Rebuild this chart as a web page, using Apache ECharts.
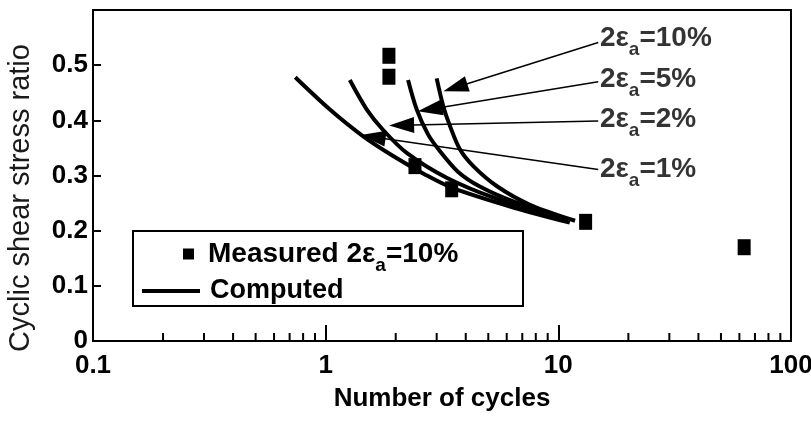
<!DOCTYPE html>
<html>
<head>
<meta charset="utf-8">
<script src="https://cdn.jsdelivr.net/npm/echarts@6/dist/echarts.min.js"></script>
<style>
  html, body { margin: 0; padding: 0; background: #fff; }
  #chart { width: 811px; height: 423px; }
</style>
</head>
<body>
<div id="chart"></div>
<script>
// Computed curves: [number of cycles, cyclic shear stress ratio]
const computed1 = [[0.74, 0.478], [1.04, 0.420], [1.45, 0.371], [1.99, 0.333], [2.67, 0.302], [3.53, 0.277], [6.40, 0.242], [11.2, 0.2145]];
const computed2 = [[1.27, 0.473], [1.50, 0.420], [1.77, 0.382], [2.23, 0.341], [3.31, 0.296], [5.43, 0.258], [11.0, 0.218]];
const computed5 = [[2.26, 0.473], [2.46, 0.420], [2.75, 0.375], [3.10, 0.344], [3.70, 0.307], [4.60, 0.280], [6.40, 0.253], [11.0, 0.220]];
const computed10 = [[3.00, 0.476], [3.20, 0.426], [3.42, 0.390], [3.78, 0.347], [4.31, 0.317], [5.43, 0.281], [7.55, 0.247], [11.8, 0.218]];

// Measured points at 2εa = 10%
const measured = [[1.87, 0.517], [1.87, 0.479], [2.42, 0.317], [3.48, 0.275], [13.1, 0.216], [62.9, 0.170]];

// Strain levels for the curve annotations
const strainLevels = ['10%', '5%', '2%', '1%'];

// Minor tick values on the logarithmic cycle axis
const xMinorTicks = [0.2, 0.3, 0.4, 0.5, 0.6, 0.7, 0.8, 0.9, 2, 3, 4, 5, 6, 7, 8, 9, 20, 30, 40, 50, 60, 70, 80, 90];

// Annotation layout: text anchor, leader line start and arrowhead centre (data coordinates)
const annotationLayout = {
  '10%': { text: [15.1, 0.548], from: [14.84, 0.541], head: [3.61, 0.4595] },
  '5%':  { text: [15.1, 0.474], from: [14.84, 0.470], head: [2.81, 0.420] },
  '2%':  { text: [15.1, 0.402], from: [14.84, 0.399], head: [2.12, 0.391] },
  '1%':  { text: [15.1, 0.311], from: [14.84, 0.311], head: [1.60, 0.370] }
};

const FONT = "'Liberation Sans', Arial, Helvetica, sans-serif";
const curves = { '10%': computed10, '5%': computed5, '2%': computed2, '1%': computed1 };

const labelRich = {
  n: { fontFamily: FONT, fontSize: 28, fontWeight: 'bold', color: '#000', lineHeight: 42 },
  s: { fontFamily: FONT, fontSize: 19, fontWeight: 'bold', color: '#000', lineHeight: 18, verticalAlign: 'bottom' }
};
const legendRich = {
  n: { fontFamily: FONT, fontSize: 28, fontWeight: 'bold', color: '#000', lineHeight: 42 },
  p: { fontFamily: FONT, fontSize: 28, fontWeight: 'bold', color: '#000', lineHeight: 42, padding: [0, 0, 0, 9] },
  s: { fontFamily: FONT, fontSize: 19, fontWeight: 'bold', color: '#000', lineHeight: 18, verticalAlign: 'bottom' }
};

const chart = echarts.init(document.getElementById('chart'), null, { renderer: 'canvas' });

const curveSeries = strainLevels.map(level => {
  const a = annotationLayout[level];
  return {
    name: 'Computed',
    type: 'line',
    data: curves[level],
    smooth: 0.3,
    showSymbol: false,
    symbol: 'none',
    lineStyle: { color: '#000', width: 4 },
    itemStyle: { color: '#000' },
    z: 2,
    animation: false,
    markLine: {
      silent: true,
      animation: false,
      symbol: ['none', 'triangle'],
      label: { show: false },
      lineStyle: { color: '#000', width: 1.5, type: 'solid' },
      emphasis: { disabled: true },
      data: [[
        { coord: a.from, symbol: 'none' },
        { coord: a.head, symbol: 'triangle', symbolSize: [16, 25] }
      ]]
    }
  };
});

const option = {
  backgroundColor: '#fff',
  animation: false,
  grid: {
    left: 93, right: 20, top: 10, bottom: 82,
    show: true, borderColor: '#000', borderWidth: 2,
    containLabel: false, outerBoundsMode: 'none'
  },
  xAxis: {
    type: 'log',
    logBase: 10,
    min: 0.1,
    max: 100,
    axisLine: { lineStyle: { color: '#000', width: 2 } },
    axisTick: { inside: true, length: 16, lineStyle: { color: '#000', width: 2 } },
    splitLine: { show: false },
    axisLabel: {
      color: '#000', fontFamily: FONT, fontSize: 26, fontWeight: 'bold', margin: 12,
      formatter: v => String(v)
    },
    name: 'Number of cycles',
    nameLocation: 'middle',
    nameGap: 45,
    nameTextStyle: { color: '#000', fontFamily: FONT, fontSize: 26, fontWeight: 'bold' }
  },
  yAxis: {
    type: 'value',
    min: 0,
    max: 0.6,
    interval: 0.1,
    axisLine: { show: true, lineStyle: { color: '#000', width: 2 } },
    axisTick: { show: true, inside: true, length: 8, lineStyle: { color: '#000', width: 2 } },
    splitLine: { show: false },
    axisLabel: {
      color: '#000', fontFamily: FONT, fontSize: 26, fontWeight: 'bold', margin: 5,
      showMaxLabel: false,
      formatter: v => (Math.round(v * 10) / 10).toString()
    },
    name: 'Cyclic shear stress ratio',
    nameLocation: 'middle',
    nameGap: 58,
    nameTextStyle: { color: '#1a1a1a', fontFamily: FONT, fontSize: 29, padding: [0, 45, 0, 0] }
  },
  legend: [
    {
      data: [{ name: 'Measured 2εa=10%', icon: 'rect' }],
      left: 183, top: 240,
      padding: 0,
      itemWidth: 11, itemHeight: 11,
      selectedMode: false,
      formatter: () => '{p|Measured 2ε}{s|a}{n|=10%}',
      textStyle: { rich: legendRich }
    },
    {
      data: [{ name: 'Computed', icon: 'path://M0,0H58V4H0Z' }],
      left: 142, top: 276,
      padding: 0,
      itemWidth: 58, itemHeight: 14,
      selectedMode: false,
      textStyle: { color: '#000', fontFamily: FONT, fontSize: 27, fontWeight: 'bold', lineHeight: 30, padding: [0, 0, 0, 5] }
    }
  ],
  graphic: [
    {
      type: 'rect',
      shape: { x: 133, y: 231, width: 390, height: 75 },
      style: { fill: 'none', stroke: '#000', lineWidth: 2 },
      silent: true,
      z: 1
    }
  ],
  series: [
    ...curveSeries,
    {
      name: 'Measured 2εa=10%',
      type: 'scatter',
      data: measured,
      symbol: 'rect',
      symbolSize: [13, 16],
      itemStyle: { color: '#000', opacity: 1 },
      z: 4
    },
    {
      name: 'strain labels',
      type: 'scatter',
      data: strainLevels.map(level => ({ value: annotationLayout[level].text, level })),
      symbolSize: 0,
      silent: true,
      label: {
        show: true,
        position: 'right',
        distance: 0,
        formatter: p => '{n|2ε}{s|a}{n|=' + p.data.level + '}',
        rich: labelRich
      },
      z: 5
    },
    {
      name: 'minor ticks',
      type: 'custom',
      data: xMinorTicks.map(v => [v, 0]),
      silent: true,
      clip: false,
      z: 6,
      renderItem: (params, api) => {
        const p = api.coord([api.value(0), 0]);
        return {
          type: 'line',
          shape: { x1: p[0], y1: p[1], x2: p[0], y2: p[1] - 8 },
          style: { stroke: '#000', lineWidth: 2 }
        };
      }
    }
  ]
};

chart.setOption(option);
</script>
</body>
</html>
